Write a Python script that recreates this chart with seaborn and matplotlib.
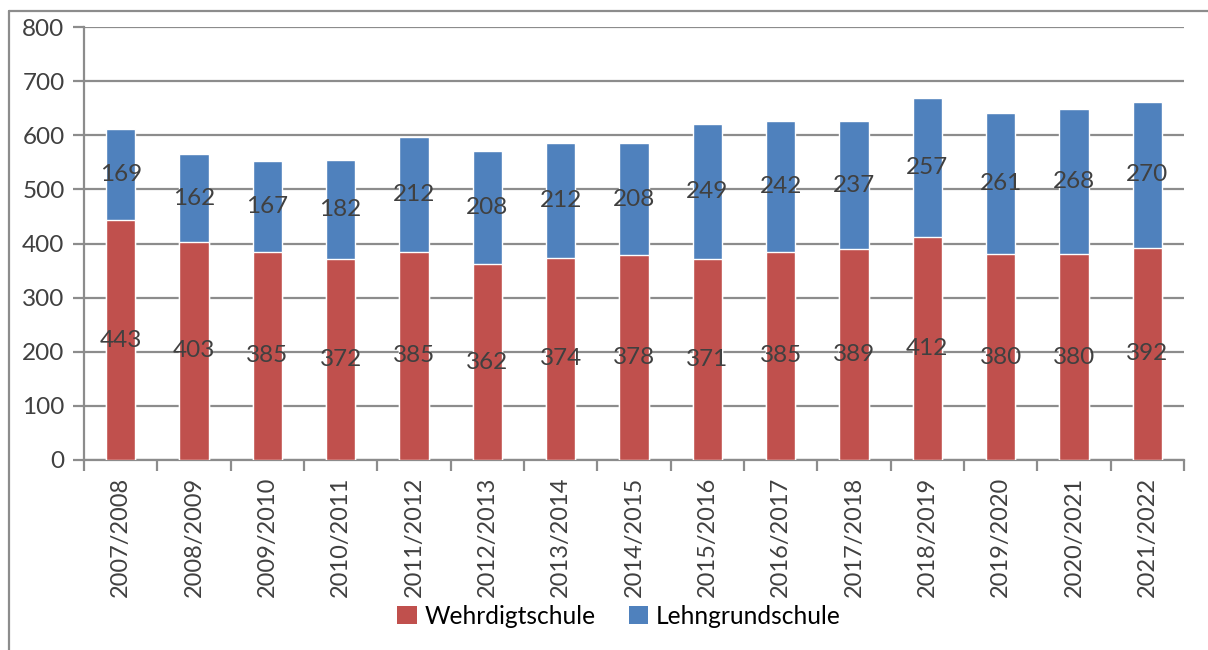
import matplotlib
matplotlib.use("Agg")
import matplotlib.pyplot as plt
from matplotlib.lines import Line2D
from matplotlib.patches import Patch
import seaborn as sns
import pandas as pd

# School years and pupil counts per school
years = ["2007/2008", "2008/2009", "2009/2010", "2010/2011", "2011/2012",
         "2012/2013", "2013/2014", "2014/2015", "2015/2016", "2016/2017",
         "2017/2018", "2018/2019", "2019/2020", "2020/2021", "2021/2022"]
wehrdigt = [443, 403, 385, 372, 385, 362, 374, 378, 371, 385, 389, 412, 380, 380, 392]
lehngrund = [169, 162, 167, 182, 212, 208, 212, 208, 249, 242, 237, 257, 261, 268, 270]
series_names = ["Wehrdigtschule", "Lehngrundschule"]
y_ticks = [0, 100, 200, 300, 400, 500, 600, 700, 800]

RED = "#C0504D"
BLUE = "#4F81BD"
GRID = "#8C8C8C"
TXT = "#404040"

sns.set_theme(style="white")
plt.rcParams["font.family"] = ["Lato", "DejaVu Sans"]

df = pd.DataFrame({"year": years, "w": wehrdigt, "l": lehngrund})
df["total"] = df["w"] + df["l"]

fig = plt.figure(figsize=(12.08, 6.5), dpi=100)
ax = fig.add_axes([84 / 1208, 190 / 650, 1100 / 1208, 433 / 650])

# Stacked bars: full total in blue, lower segment in red on top of it
sns.barplot(data=df, x="year", y="total", color=BLUE, saturation=1, width=0.4,
            ax=ax, zorder=3)
sns.barplot(data=df, x="year", y="w", color=RED, saturation=1, width=0.4,
            ax=ax, zorder=3)

for i, (w, l) in enumerate(zip(wehrdigt, lehngrund)):
    ax.text(i, w / 2, str(w), ha="center", va="center", fontsize=17.5,
            color=TXT, zorder=4)
    ax.text(i, w + l / 2, str(l), ha="center", va="center", fontsize=17.5,
            color=TXT, zorder=4)

ax.set_xlim(-0.5, len(years) - 0.5)
ax.set_ylim(0, 800)
ax.set_yticks(y_ticks)
ax.set_yticklabels([str(v) for v in y_ticks], fontsize=17.5, color=TXT)
ax.set_xticks(range(len(years)))
ax.set_xticklabels(years, rotation=90, fontsize=17, color=TXT)
ax.set_xlabel("")
ax.set_ylabel("")

ax.yaxis.grid(True, color=GRID, linewidth=1.6, zorder=0)
ax.set_axisbelow(True)
for side in ["top", "right"]:
    ax.spines[side].set_visible(False)
for side in ["left", "bottom"]:
    ax.spines[side].set_color(GRID)
    ax.spines[side].set_linewidth(1.6)

# y ticks point outwards; x ticks sit between categories
ax.tick_params(axis="y", direction="out", length=8, width=1.6, color=GRID,
               left=True, pad=6)
ax.tick_params(axis="x", which="major", length=0, pad=12)
ax.set_xticks([i - 0.5 for i in range(len(years) + 1)], minor=True)
ax.tick_params(axis="x", which="minor", direction="out", length=8, width=1.6,
               color=GRID, bottom=True)

handles = [Patch(facecolor=RED, edgecolor="none"),
           Patch(facecolor=BLUE, edgecolor="none")]
fig.legend(handles, series_names, loc="center", bbox_to_anchor=(619 / 1208, 1 - 616 / 650),
           ncol=2, frameon=False, fontsize=17.7, labelcolor="black",
           handlelength=0.8, handleheight=0.8,
           handletextpad=0.3, columnspacing=1.35)

# outer chart frame (left and top edges)
fig.add_artist(Line2D([9 / 1208, 9 / 1208], [0, 1 - 11 / 650], color=GRID, linewidth=1.6))
fig.add_artist(Line2D([9 / 1208, 1], [1 - 11 / 650, 1 - 11 / 650], color=GRID, linewidth=1.6))

fig.savefig("out.png", dpi=100)
